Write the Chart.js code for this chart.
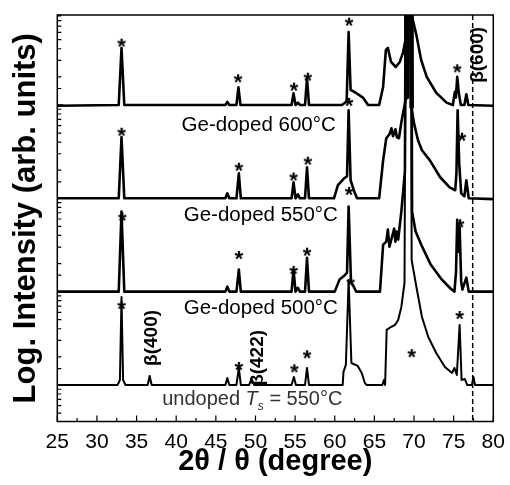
<!DOCTYPE html>
<html lang="en">
<head>
<meta charset="UTF-8">
<title>XRD scans</title>
<script src="https://cdn.jsdelivr.net/npm/chart.js@4.4.0/dist/chart.umd.min.js"></script>
<style>
  body { margin: 0; background: #fff; }
</style>
</head>
<body>
<canvas id="xrd" width="510" height="485"></canvas>
<script>
// 2theta (deg) / intensity relative to each scan's own background (= 1)
const ge600 = [[25,0.98],[32.75,1],[33.1,4.08],[33.45,1],[46.2,1],[46.45,1.08],[46.7,1],[47.6,1],[47.85,1.55],[48.1,1],
  [54.55,1],[54.8,1.33],[55.05,1],[55.35,1.06],[55.6,1],[56.25,1],[56.5,1.93],[56.75,1],[60.9,1],[61.5,1.09],
  [61.75,6.05],[62.0,1.45],[62.6,1.36],[63.0,1.29],[63.6,1.19],[64.2,1],[65.6,1],[66.1,1.56],[66.45,3.89],[66.7,4.08],
  [67.1,2.89],[67.7,2.55],[68.2,2.89],[68.6,3.61],[69.05,5.6],[69.1,1e6],[69.6,1e6],[69.7,9.2],[70.3,5.6],[70.9,3.03],
  [71.6,2.0],[72.8,1.35],[74.1,1.06],[74.9,1],[75.15,1.38],[75.28,1.2],[75.45,2.0],[75.65,1.35],[75.9,1],[76.35,1],
  [76.6,1.3],[76.85,1],[80,0.98]];
const ge550 = [[25,1],[32.75,1],[33.1,4.53],[33.45,1],[46.2,1],[46.45,1.13],[46.7,1],[47.6,1],[47.9,1.85],[48.15,1],
  [54.55,1],[54.8,1.48],[55.05,1],[55.35,1.1],[55.6,1],[56.25,1],[56.5,2.15],[56.75,1],[59.9,1],[60.4,1.38],
  [61.2,1.64],[61.55,1.72],[61.75,8.78],[62.0,1.56],[62.4,1.22],[62.8,1],[65.6,1],[66.1,2.55],[66.5,4.4],[66.9,4.85],
  [67.15,5.62],[67.35,4.62],[67.65,5.49],[67.85,4.5],[68.1,4.4],[68.4,6.52],[69.0,12.1],[69.1,1e6],[69.6,1e6],[69.7,9.2],
  [70.0,6.35],[70.5,4.18],[71.0,3.27],[72.0,2.55],[73.3,1.68],[74.5,1.31],[75.2,1.22],[75.35,1.85],[75.5,8.78],[75.7,2.37],
  [75.95,1.13],[76.35,1.05],[76.6,1.56],[76.9,1],[80,0.98]];
const ge500 = [[25,1],[32.75,1],[33.1,7.2],[33.45,1],[46.2,1],[46.45,1.13],[46.7,1],[47.6,1],[47.9,1.72],[48.15,1],
  [54.55,1],[54.8,1.72],[55.05,1],[55.35,1.1],[55.6,1],[56.25,1],[56.5,2.3],[56.75,1],[60.0,1],[60.6,1.345],
  [61.2,1.48],[61.55,1.6],[61.75,8.15],[62.05,1.25],[62.35,1.15],[62.7,1],[65.7,1],[65.9,1.76],[66.1,3.19],[66.5,3.43],
  [66.7,4.62],[66.9,3.03],[67.2,3.79],[67.5,4.73],[67.65,3.43],[67.8,4.4],[68.0,3.61],[68.4,7.2],[68.85,19.3],[69.05,1e6],
  [69.6,1e6],[69.75,7.2],[70.2,4.4],[70.9,3.19],[72.1,1.95],[73.4,1.38],[74.6,1.08],[75.1,1],[75.3,1.64],[75.45,5.9],
  [75.6,2.68],[75.75,4.97],[75.95,1.28],[76.1,1.05],[76.6,1.41],[76.9,1],[80,1]];
const undoped = [[25,1],[32.6,1],[32.9,1.13],[33.1,8.78],[33.3,1.13],[33.6,1],[36.4,1],[36.65,1.25],[36.9,1],[46.2,1],
  [46.45,1.19],[46.7,1],[47.6,1],[47.9,1.52],[48.15,1],[49.2,1],[49.5,1.16],[49.85,1],[54.55,1],[54.85,1.22],
  [55.1,1],[56.25,1],[56.5,1.52],[56.75,1],[61.0,1],[61.1,1.38],[61.4,1.64],[61.75,13.3],[62.1,1.72],[62.9,1.6],
  [63.4,1.345],[63.8,1.05],[64.0,1],[66.0,1],[66.2,1.13],[66.35,1],[66.55,3.89],[66.9,4.08],[67.6,4.4],[68.0,4.97],
  [68.4,6.86],[68.8,12.4],[69.05,1e6],[69.6,1e6],[69.7,21.8],[70.3,11.2],[71.0,5.35],[71.8,3.27],[72.8,2.2],[73.9,1.56],
  [74.8,1.345],[75.1,1.52],[75.4,1.28],[75.75,4.4],[76.0,1.13],[76.4,1.16],[76.7,1],[77.3,1],[77.5,1.22],[77.7,1],[80,1]];

// vertical shift of each scan on the log axis
const scans = [ge600, ge550, ge500, undoped];
const shifts = [10000, 1000, 100, 10];
const lineWidths = [2.6, 2.6, 2.6, 2.0];

// peak markers (*)
const starX = [33.1,47.8,54.85,56.6,61.8,75.45, 33.1,47.9,54.8,56.6,61.8,76.05,
  33.2,47.9,54.8,56.5,61.8,75.8, 33.1,47.9,54.9,56.5,62.0,69.7,75.75];
const starY = [46500,19300,15700,20100,78100,24700, 5170,2180,1710,2530,10800,4570,
  636,247,171,268,1200,540, 72,16.0,15.1,21.3,128,21.9,56.2];

// sample names
const sampleNames = ['Ge-doped 600°C', 'Ge-doped 550°C', 'Ge-doped 500°C'];
const sampleX = [50.4, 50.67, 50.67];
const sampleY = [6100, 663, 66.4];
const undopedAt = [49.6, 7.0];

// beta-Ga2O3 reflections
const betaNames = ['β(400)', 'β(422)', 'β(600)'];
const betaX = [36.94, 50.25, 78.05];
const betaY = [31.9, 19.5, 34400];
const beta600 = 77.4;

const FONT = '"Liberation Sans", Arial, sans-serif';

// asterisk used as point style
const star = document.createElement('canvas');
star.width = 16; star.height = 16;
(function () {
  const c = star.getContext('2d');
  c.font = 'bold 22px ' + FONT;
  c.textAlign = 'center';
  c.textBaseline = 'alphabetic';
  const m = c.measureText('*');
  c.fillStyle = '#000';
  c.fillText('*', 8, 8 + (m.actualBoundingBoxAscent - m.actualBoundingBoxDescent) / 2);
})();

const datasets = scans.map((s, i) => ({
  data: s.map(p => ({x: p[0], y: p[1] * shifts[i]})),
  borderColor: '#000',
  borderWidth: lineWidths[i],
  pointRadius: 0,
  tension: 0,
  borderJoinStyle: 'round',
  segment: {
    // the saturated substrate peak of the two upper scans prints as a solid band
    borderWidth: c => (i < 2 && c.p0.parsed.x >= 68.95 && c.p1.parsed.x <= 69.75) ? 4.6 : undefined
  }
}));
datasets.push({
  data: starX.map((x, i) => ({x: x, y: starY[i]})),
  showLine: false,
  pointStyle: star,
  pointRadius: 5
});

const decor = {
  id: 'decor',
  afterDatasetsDraw(chart) {
    const {ctx, chartArea: a, scales: {x, y}} = chart;
    ctx.save();

    // dashed marker for beta(600)
    const dx = x.getPixelForValue(beta600);
    ctx.strokeStyle = '#000';
    ctx.lineWidth = 1.5;
    ctx.setLineDash([5, 3]);
    ctx.beginPath();
    ctx.moveTo(dx, a.top);
    ctx.lineTo(dx, a.bottom);
    ctx.stroke();
    ctx.setLineDash([]);

    // box + inward ticks
    ctx.lineWidth = 1.5;
    ctx.strokeRect(a.left, a.top, a.right - a.left, a.bottom - a.top);
    ctx.lineWidth = 1.2;
    ctx.beginPath();
    x.ticks.forEach(t => {
      const px = x.getPixelForValue(t.value);
      ctx.moveTo(px, a.bottom);
      ctx.lineTo(px, a.bottom - 6);
      if (t.value + 2.5 < x.max) {
        const mx = x.getPixelForValue(t.value + 2.5);
        ctx.moveTo(mx, a.bottom);
        ctx.lineTo(mx, a.bottom - 3.5);
      }
    });
    y.ticks.forEach(t => {
      const py = y.getPixelForValue(t.value);
      ctx.moveTo(a.left, py);
      ctx.lineTo(a.left + (t.major ? 6 : 4), py);
    });
    ctx.stroke();

    ctx.fillStyle = '#000';
    ctx.textAlign = 'center';
    ctx.textBaseline = 'middle';

    // sample names
    ctx.font = '20.5px ' + FONT;
    sampleNames.forEach((s, i) => {
      ctx.fillText(s, x.getPixelForValue(sampleX[i]), y.getPixelForValue(sampleY[i]));
    });

    // undoped  T_s = 550°C
    const ux = x.getPixelForValue(undopedAt[0]);
    const uy = y.getPixelForValue(undopedAt[1]);
    const parts = [
      ['undoped ', '20px ' + FONT, 0],
      ['T', 'italic 20px ' + FONT, 0],
      ['s', 'italic 12px ' + FONT, 7],
      [' = 550°C', '20px ' + FONT, 0]
    ];
    let w = 0;
    parts.forEach(p => { ctx.font = p[1]; w += ctx.measureText(p[0]).width; });
    let cx = ux - w / 2;
    ctx.textAlign = 'left';
    ctx.fillStyle = '#333';
    parts.forEach(p => {
      ctx.font = p[1];
      ctx.fillText(p[0], cx, uy + p[2]);
      cx += ctx.measureText(p[0]).width;
    });

    // reflection labels, rotated
    ctx.fillStyle = '#000';
    ctx.textAlign = 'center';
    ctx.font = 'bold 19px ' + FONT;
    betaNames.forEach((s, i) => {
      ctx.save();
      ctx.translate(x.getPixelForValue(betaX[i]), y.getPixelForValue(betaY[i]));
      ctx.rotate(-Math.PI / 2);
      ctx.fillText(s, 0, 0);
      ctx.restore();
    });

    ctx.restore();
  }
};

new Chart(document.getElementById('xrd'), {
  type: 'line',
  data: {datasets: datasets},
  options: {
    responsive: false,
    animation: false,
    layout: {padding: {left: 10.7, right: 16.7, top: 15, bottom: 8.5}},
    plugins: {legend: {display: false}, tooltip: {enabled: false}},
    scales: {
      x: {
        type: 'linear',
        min: 25,
        max: 80,
        afterFit: s => { s.height = 55; s.paddingLeft = 0; s.paddingRight = 0; },
        ticks: {stepSize: 5, autoSkip: false, maxRotation: 0, padding: 10.7, color: '#000',
          font: {family: FONT, size: 21, lineHeight: 1}},
        grid: {display: false, drawTicks: false},
        border: {display: false},
        title: {display: true, text: '2θ / θ (degree)', color: '#000',
          font: {family: FONT, size: 29, weight: 'bold', lineHeight: 1},
          padding: {top: 0, bottom: 0}}
      },
      y: {
        type: 'logarithmic',
        min: 4.06,
        max: 92000,
        ticks: {display: false},
        grid: {display: false, drawTicks: false},
        border: {display: false},
        title: {display: true, text: 'Log. Intensity (arb. units)', color: '#000',
          font: {family: FONT, size: 31, weight: 'bold', lineHeight: 1},
          padding: {top: 0, bottom: 15.6}}
      }
    }
  },
  plugins: [decor]
});
</script>
</body>
</html>
